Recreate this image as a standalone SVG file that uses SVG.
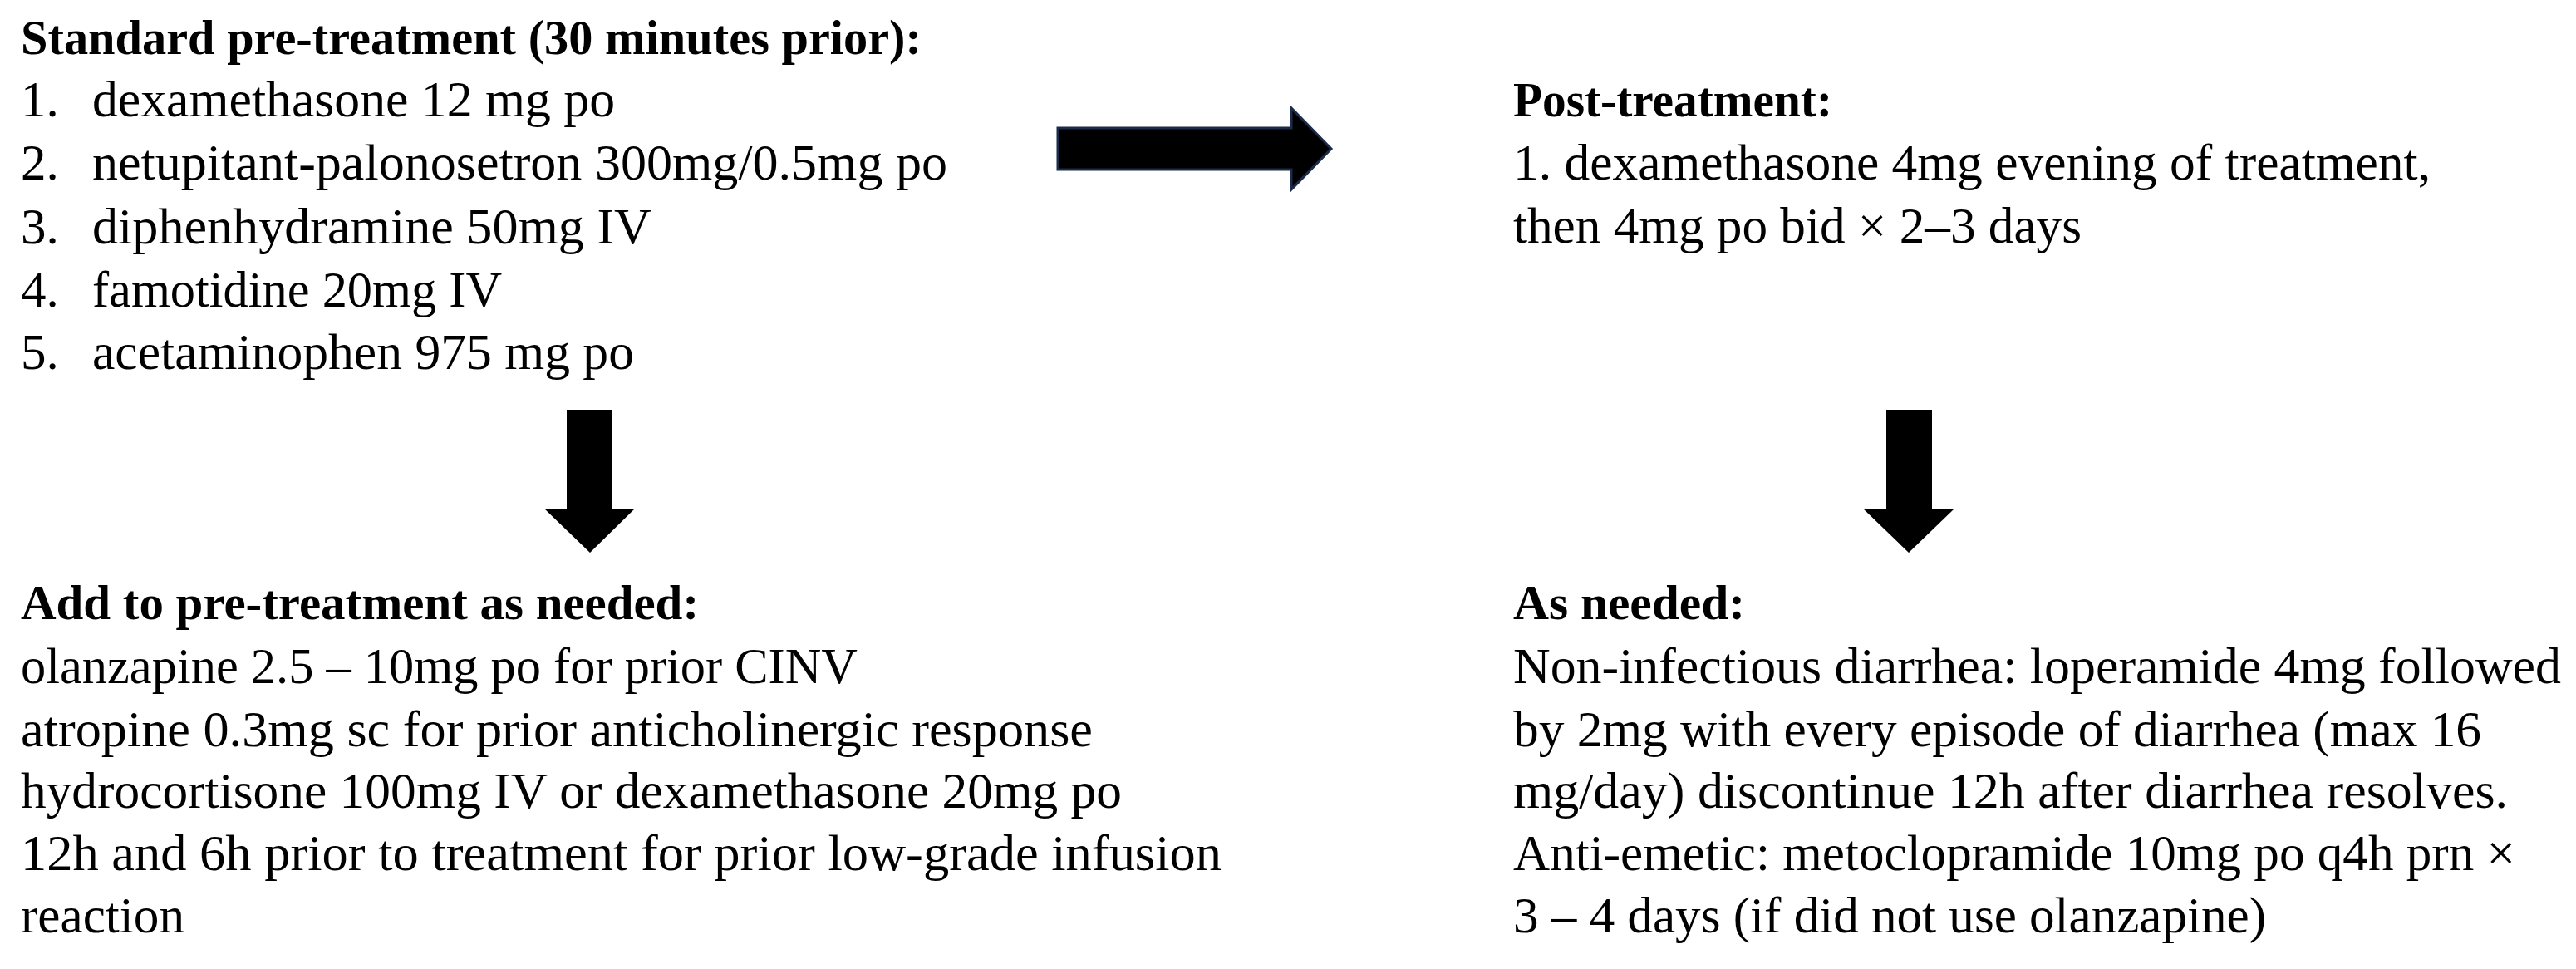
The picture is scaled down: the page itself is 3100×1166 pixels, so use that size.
<svg xmlns="http://www.w3.org/2000/svg" width="3100" height="1166" viewBox="0 0 3100 1166">
  <style>
    text { font-family: "Liberation Serif", "Times New Roman", serif; fill: #000; }
    .h { font-size: 59px; font-weight: bold; }
    .t { font-size: 61px; }
    .arrow { fill: #000; }
    .arrowR { fill: #000; stroke: #1c2b4a; stroke-width: 3; stroke-linejoin: miter; }
  </style>
  <rect width="3100" height="1166" fill="#fff"/>

  <g id="standard-pretreatment">
    <text class="h" x="25" y="65" textLength="1084" lengthAdjust="spacingAndGlyphs">Standard pre-treatment (30 minutes prior):</text>
    <text class="t" x="25" y="140">1.</text><text class="t" x="111" y="140" textLength="629" lengthAdjust="spacingAndGlyphs">dexamethasone 12 mg po</text>
    <text class="t" x="25" y="216">2.</text><text class="t" x="111" y="216" textLength="1029" lengthAdjust="spacingAndGlyphs">netupitant-palonosetron 300mg/0.5mg po</text>
    <text class="t" x="25" y="293">3.</text><text class="t" x="111" y="293" textLength="673" lengthAdjust="spacingAndGlyphs">diphenhydramine 50mg IV</text>
    <text class="t" x="25" y="369">4.</text><text class="t" x="111" y="369" textLength="493" lengthAdjust="spacingAndGlyphs">famotidine 20mg IV</text>
    <text class="t" x="25" y="444">5.</text><text class="t" x="111" y="444" textLength="652" lengthAdjust="spacingAndGlyphs">acetaminophen 975 mg po</text>
  </g>

  <g id="post-treatment">
    <text class="h" x="1821" y="140" textLength="384" lengthAdjust="spacingAndGlyphs">Post-treatment:</text>
    <text class="t" x="1821" y="216" textLength="1104" lengthAdjust="spacingAndGlyphs">1. dexamethasone 4mg evening of treatment,</text>
    <text class="t" x="1821" y="292" textLength="684" lengthAdjust="spacingAndGlyphs">then 4mg po bid × 2–3 days</text>
  </g>

  <g id="add-to-pretreatment">
    <text class="h" x="25" y="745" textLength="816" lengthAdjust="spacingAndGlyphs">Add to pre-treatment as needed:</text>
    <text class="t" x="25" y="822" textLength="1007" lengthAdjust="spacingAndGlyphs">olanzapine 2.5 – 10mg po for prior CINV</text>
    <text class="t" x="25" y="898" textLength="1290" lengthAdjust="spacingAndGlyphs">atropine 0.3mg sc for prior anticholinergic response</text>
    <text class="t" x="25" y="972" textLength="1325" lengthAdjust="spacingAndGlyphs">hydrocortisone 100mg IV or dexamethasone 20mg po</text>
    <text class="t" x="25" y="1047" textLength="1445" lengthAdjust="spacingAndGlyphs">12h and 6h prior to treatment for prior low-grade infusion</text>
    <text class="t" x="25" y="1122" textLength="197" lengthAdjust="spacingAndGlyphs">reaction</text>
  </g>

  <g id="as-needed">
    <text class="h" x="1821" y="745" textLength="279" lengthAdjust="spacingAndGlyphs">As needed:</text>
    <text class="t" x="1821" y="822" textLength="1261" lengthAdjust="spacingAndGlyphs">Non-infectious diarrhea: loperamide 4mg followed</text>
    <text class="t" x="1821" y="898" textLength="1165" lengthAdjust="spacingAndGlyphs">by 2mg with every episode of diarrhea (max 16</text>
    <text class="t" x="1821" y="972" textLength="1197" lengthAdjust="spacingAndGlyphs">mg/day) discontinue 12h after diarrhea resolves.</text>
    <text class="t" x="1821" y="1047" textLength="1206" lengthAdjust="spacingAndGlyphs">Anti-emetic: metoclopramide 10mg po q4h prn ×</text>
    <text class="t" x="1821" y="1122" textLength="906" lengthAdjust="spacingAndGlyphs">3 – 4 days (if did not use olanzapine)</text>
  </g>

  <g id="connectors">
    <polygon class="arrowR" points="1273,154 1554,154 1554,130 1602,179 1554,228 1554,204 1273,204"/>
    <polygon class="arrow" points="682,493 737,493 737,612 764,612 710,665 655,612 682,612"/>
    <polygon class="arrow" points="2270,493 2325,493 2325,612 2352,612 2297,665 2242,612 2270,612"/>
  </g>
</svg>
